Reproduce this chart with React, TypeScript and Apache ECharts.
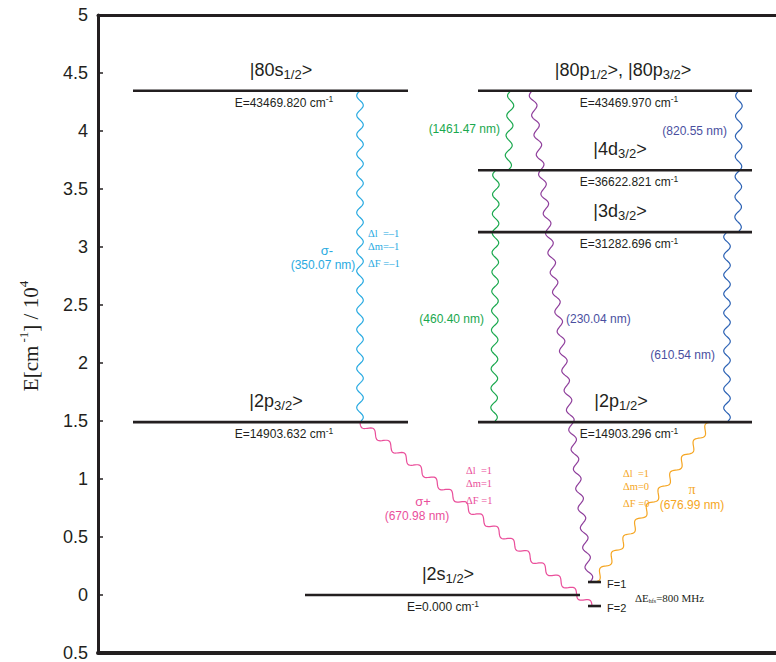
import React, { useEffect, useRef } from 'react';
import * as echarts from 'echarts';

// ---------- data ----------
// Energy levels (cm^-1)
const levelTitles = [
  '{m||80s}{sub|1/2}{m|>}',
  '{m||80p}{sub|1/2}{m|>, |80p}{sub|3/2}{m|>}',
  '{m||4d}{sub|3/2}{m|>}',
  '{m||3d}{sub|3/2}{m|>}',
  '{m||2p}{sub|3/2}{m|>}',
  '{m||2p}{sub|1/2}{m|>}',
  '{m||2s}{sub|1/2}{m|>}',
];
const levelEnergies = [43469.82, 43469.97, 36622.821, 31282.696, 14903.632, 14903.296, 0.0];

// Hyperfine sublevels of 2s1/2 (drawn with exaggerated splitting, cm^-1)
const hfsNames = ['F=1', 'F=2'];
const hfsDisplayEnergies = [1120, -950];
const hfsSplittingLabel = '800 MHz';

// Transitions: state indices (0..6 levels, 7 = F=1, 8 = F=2)
const transitionFrom = [0, 1, 2, 1, 3, 1, 4, 5];
const transitionTo = [4, 2, 5, 3, 5, 7, 8, 7];
const wavelengthsNm = [350.07, 1461.47, 460.4, 820.55, 610.54, 230.04, 670.98, 676.99];

// Y axis ticks (units of 10^4 cm^-1)
const yMin = -0.5;
const yMax = 5;
const yStep = 0.5;

// ---------- layout / style ----------
const INK = '#231f20';
const SANS = '"Liberation Sans", Arial, Helvetica, sans-serif';
const SERIF = '"Liberation Serif", "Times New Roman", serif';

const levelX0 = [133, 478, 478, 478, 133, 478, 305];
const levelX1 = [408, 752, 752, 752, 408, 752, 580];
const titleX = [281, 623, 620, 620, 276, 621, 448];
const labelX = [284, 629, 629, 629, 284, 629, 443];
const hfsX0 = 588;
const hfsX1 = 601;
const hfsLabelX = 607;

const transXFrom = [360, 511, 496, 739, 727, 532, 360, 711];
const transXTo = [360, 508, 494, 738, 727, 590, 592, 594];
const CYAN = '#29aae1';
const GREEN = '#1aa84e';
const BLUE = '#2c62b4';
const INDIGO = '#4a4f9f';
const PURPLE = '#8f3f9c';
const PINK = '#ea4f9b';
const ORANGE = '#f5a623';
const transColors = [CYAN, GREEN, GREEN, BLUE, BLUE, PURPLE, PINK, ORANGE];

// wavelength label placement [x, y, align, color]
const wlLabelPos: [number, number, string, string][] = [
  [323, 265, 'center', CYAN],
  [500, 129, 'right', GREEN],
  [484, 319, 'right', GREEN],
  [727, 131, 'right', INDIGO],
  [715, 355, 'right', INDIGO],
  [566, 319, 'left', INDIGO],
  [417, 516, 'center', PINK],
  [692, 505, 'center', ORANGE],
];

const titleRich = {
  m: { fontSize: 18, fontFamily: SANS, fill: INK, lineHeight: 20, verticalAlign: 'top' },
  sub: { fontSize: 13, fontFamily: SANS, fill: INK, lineHeight: 13, verticalAlign: 'bottom', padding: [14, 0, 0, 0] },
};
const eRich = {
  e: { fontSize: 12, fontFamily: SANS, fill: INK, lineHeight: 14, verticalAlign: 'bottom', padding: [4, 0, 0, 0] },
  sup: { fontSize: 8.5, fontFamily: SANS, fill: INK, lineHeight: 8, verticalAlign: 'top' },
};

function stateEnergy(idx: number) {
  return idx < levelEnergies.length ? levelEnergies[idx] : hfsDisplayEnergies[idx - levelEnergies.length];
}

function wavePoints(p0: number[], p1: number[], period: number, amp: number) {
  const dx = p1[0] - p0[0];
  const dy = p1[1] - p0[1];
  const L = Math.hypot(dx, dy);
  const ux = dx / L;
  const uy = dy / L;
  const nx = -uy;
  const ny = ux;
  const cycles = Math.max(1, Math.round(L / period));
  const n = Math.ceil(L / 1.2);
  const pts: number[][] = [];
  for (let i = 0; i <= n; i++) {
    const t = i / n;
    const s = t * L;
    const off = amp * Math.sin(2 * Math.PI * cycles * t);
    pts.push([p0[0] + ux * s + nx * off, p0[1] + uy * s + ny * off]);
  }
  return pts;
}

function txt(x: number, y: number, text: string, color: string, size: number, font: string, align = 'left') {
  return {
    type: 'text',
    x,
    y,
    silent: true,
    style: {
      text,
      fill: color,
      fontSize: size,
      fontFamily: font,
      align,
      textAlign: align,
      verticalAlign: 'middle',
      textVerticalAlign: 'middle',
    },
  };
}

export default function App() {
  const ref = useRef<HTMLDivElement>(null);
  useEffect(() => {
    if (!ref.current) return;
    const chart = echarts.init(ref.current, undefined, { renderer: 'svg' });

    const levelData = levelEnergies.map((E, i) => [i, E / 1e4]);
    const hfsData = hfsDisplayEnergies.map((E, i) => [i, E / 1e4]);
    const transData = transitionFrom.map((f, i) => [i, stateEnergy(f) / 1e4, stateEnergy(transitionTo[i]) / 1e4]);

    const graphics: any[] = [];
    // y-axis title
    graphics.push({
      type: 'text',
      x: 29,
      y: 336,
      rotation: Math.PI / 2,
      silent: true,
      style: {
        text: '{a|E[cm}{s| -1}{a|] / 10}{s|4}',
        align: 'center',
        verticalAlign: 'middle',
        rich: {
          a: { fontSize: 21, fontFamily: SERIF, fill: INK, lineHeight: 24, verticalAlign: 'bottom', padding: [7, 0, 0, 0] },
          s: { fontSize: 13, fontFamily: SERIF, fill: INK, lineHeight: 13, verticalAlign: 'top' },
        },
      },
    });
    // wavelength labels
    wavelengthsNm.forEach((wl, i) => {
      const [x, y, align, color] = wlLabelPos[i];
      graphics.push(txt(x, y, `(${wl.toFixed(2)} nm)`, color, 12, SANS, align));
    });
    // polarisation labels
    graphics.push(txt(327, 250, 'σ-', CYAN, 13, SANS, 'center'));
    graphics.push(txt(423, 501, 'σ+', PINK, 13, SANS, 'center'));
    graphics.push(txt(692, 489, 'π', ORANGE, 14, SERIF, 'center'));
    // selection rules
    const rules: [number, number, string[], string][] = [
      [368, 233, ['Δl  =–1', 'Δm=–1', 'ΔF =–1'], CYAN],
      [466, 470, ['Δl  =1', 'Δm=1', 'ΔF =1'], PINK],
      [623, 473, ['Δl  =1', 'Δm=0', 'ΔF =0'], ORANGE],
    ];
    rules.forEach(([x, y, lines, color]) => {
      graphics.push(txt(x, y, lines[0], color, 10.5, SERIF));
      graphics.push(txt(x, y + 13, lines[1], color, 10.5, SERIF));
      graphics.push(txt(x, y + 30, lines[2], color, 10.5, SERIF));
    });
    // hyperfine splitting label
    graphics.push({
      type: 'text',
      x: 635,
      y: 598,
      silent: true,
      style: {
        text: `{a|ΔE}{b|hfs}{a|=${hfsSplittingLabel}}`,
        align: 'left',
        verticalAlign: 'middle',
        rich: {
          a: { fontSize: 11, fontFamily: SERIF, fill: INK, lineHeight: 12, verticalAlign: 'top' },
          b: { fontSize: 6, fontFamily: SERIF, fill: INK, lineHeight: 6, verticalAlign: 'bottom', padding: [9, 0, 0, 0] },
        },
      },
    });

    const option: any = {
      animation: false,
      grid: { left: 98, right: 0, top: 15, bottom: 7 },
      xAxis: [
        {
          type: 'value', min: 98, max: 776, position: 'bottom',
          axisLine: { show: true, onZero: false, lineStyle: { color: INK, width: 4 } },
          axisTick: { show: false }, axisLabel: { show: false }, splitLine: { show: false },
        },
        {
          type: 'value', min: 98, max: 776, position: 'top',
          axisLine: { show: true, onZero: false, lineStyle: { color: INK, width: 3 } },
          axisTick: { show: false }, axisLabel: { show: false }, splitLine: { show: false },
        },
      ],
      yAxis: {
        type: 'value', min: yMin, max: yMax, interval: yStep,
        axisLine: { show: true, onZero: false, lineStyle: { color: INK, width: 3 } },
        axisTick: { show: true, inside: true, length: 5, lineStyle: { color: INK, width: 1.5 } },
        axisLabel: {
          fontSize: 18, fontFamily: SANS, color: INK, margin: 10,
          formatter: (v: number) => String(Math.abs(Math.round(v * 10) / 10)),
        },
        splitLine: { show: false },
      },
      series: [
        {
          type: 'custom',
          name: 'transitions',
          silent: true,
          data: transData,
          renderItem: (params: any, api: any) => {
            const i = params.dataIndex;
            const p0 = api.coord([transXFrom[i], api.value(1)]);
            const p1 = api.coord([transXTo[i], api.value(2)]);
            return {
              type: 'polyline',
              shape: { points: wavePoints(p0, p1, 20, 3.3) },
              style: { stroke: transColors[i], lineWidth: 1.2, fill: 'none' },
            };
          },
        },
        {
          type: 'custom',
          name: 'levels',
          silent: true,
          data: levelData,
          renderItem: (params: any, api: any) => {
            const i = params.dataIndex;
            const E = api.value(1);
            const p0 = api.coord([levelX0[i], E]);
            const p1 = api.coord([levelX1[i], E]);
            const y = p0[1];
            return {
              type: 'group',
              children: [
                { type: 'line', shape: { x1: p0[0], y1: y, x2: p1[0], y2: y }, style: { stroke: INK, lineWidth: 2.6 } },
                {
                  type: 'text', x: titleX[i], y: y - 30,
                  style: { text: levelTitles[i], rich: titleRich, align: 'center', verticalAlign: 'top' },
                },
                {
                  type: 'text', x: labelX[i], y: y + 4,
                  style: {
                    text: `{e|E=${levelEnergies[i].toFixed(3)} cm}{sup|-1}`,
                    rich: eRich, align: 'center', verticalAlign: 'top',
                  },
                },
              ],
            };
          },
        },
        {
          type: 'custom',
          name: 'hyperfine',
          silent: true,
          data: hfsData,
          renderItem: (params: any, api: any) => {
            const i = params.dataIndex;
            const E = api.value(1);
            const p0 = api.coord([hfsX0, E]);
            const p1 = api.coord([hfsX1, E]);
            return {
              type: 'group',
              children: [
                { type: 'line', shape: { x1: p0[0], y1: p0[1], x2: p1[0], y2: p1[1] }, style: { stroke: INK, lineWidth: 2.6 } },
                {
                  type: 'text', x: hfsLabelX, y: p0[1] + 2,
                  style: { text: hfsNames[i], fill: INK, fontSize: 11, fontFamily: SANS, align: 'left', verticalAlign: 'middle' },
                },
              ],
            };
          },
        },
      ],
      graphic: graphics,
    };
    chart.setOption(option);
    return () => chart.dispose();
  }, []);

  return (
    <div
      ref={ref}
      style={{ position: 'absolute', left: 0, top: 0, width: 776, height: 662, background: '#fff' }}
    />
  );
}
